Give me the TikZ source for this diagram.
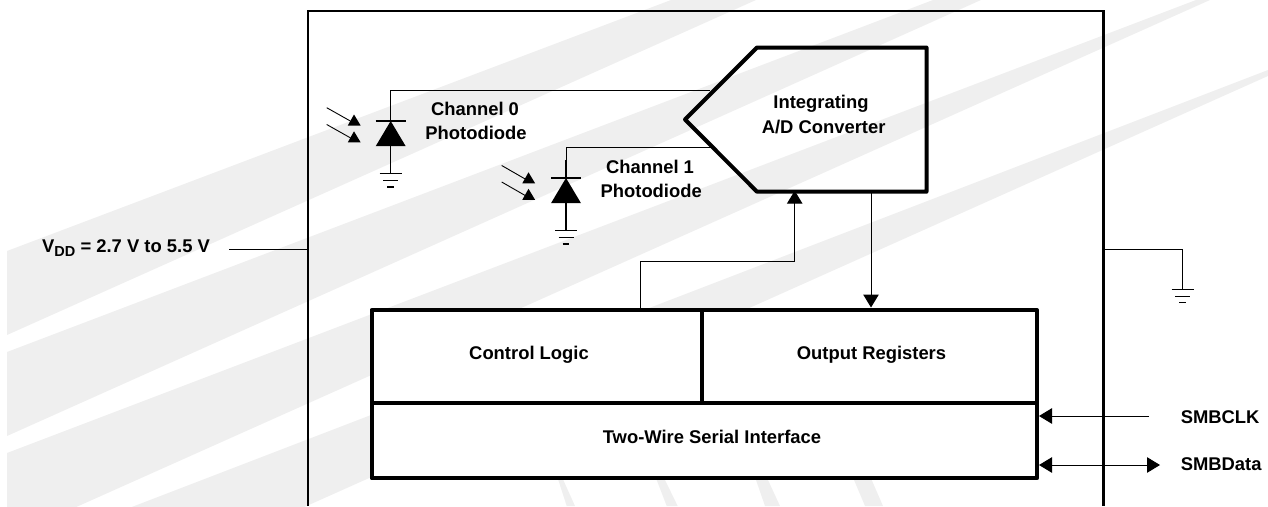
\documentclass[tikz,border=0pt]{standalone}
\usepackage{fontspec}
\setmainfont{Liberation Sans}
\usetikzlibrary{arrows.meta}
\definecolor{bandgray}{HTML}{EFEFEF}
\tikzset{
  x=1pt,y=-1pt,
  band/.style={fill=bandgray,draw=none},
  thinline/.style={line width=1pt,black},
  stem/.style={line width=1.5pt,black},
  frameline/.style={line width=2.4pt,black,line join=miter},
  heavy/.style={line width=4pt,black,line join=round},
  label/.style={font=\bfseries\fontsize{18.4}{22}\selectfont,text=black,inner sep=0pt,align=center},
  arr/.style={-{Triangle[length=13pt,width=15.5pt]}},
  arrs/.style={{Triangle[length=13pt,width=15.5pt]}-{Triangle[length=13pt,width=15.5pt]}},
}
\newcommand{\gnd}[2]{%
  \draw[line width=1.2pt] (#1-11,#2) -- (#1+11,#2);
  \draw[line width=1.2pt] (#1-7.5,#2+6.8) -- (#1+7.5,#2+6.8);
  \draw[line width=1.2pt] (#1-3.3,#2+13.4) -- (#1+3.3,#2+13.4);}
\newcommand{\lightarrow}[3]{% start x, apex x, apex y
  \draw[line width=0.9pt] (#1,#3-6.8) -- (#2-3.5,#3+6.6);
  \fill (#2,#3) -- (#2+6.6,#3+11) -- (#2-6.2,#3+11) -- cycle;}
\newcommand{\diode}[3]{% x, wire top y, bar y
  \fill (#1-15,#3+25.2) -- (#1+15,#3+25.2) -- (#1,#3) -- cycle;
  \draw[stem] (#1-15,#3) -- (#1+15,#3);
  \draw[stem] (#1,#3-18) -- (#1,#3);
  \draw[stem] (#1,#3+25) -- (#1,#3+52.6);
  \gnd{#1}{#3+52.6}}
\begin{document}
\begin{tikzpicture}
\useasboundingbox (0,0) rectangle (1268,506);
\begin{scope}
\clip (7,0) rectangle (1268,506);
\fill[band] (7,251) -- (671,0) -- (756,0) -- (7,335) -- cycle;
\fill[band] (7,352) -- (933,0) -- (981,0) -- (7,436) -- cycle;
\fill[band] (7,453) -- (1196,0) -- (1210,0) -- (7,538) -- cycle;
\fill[band] (7,555) -- (1268,70) -- (1268,76) -- (7,640) -- cycle;
\fill[band] (558.3,480) -- (563.3,480) -- (575,506) -- (566.7,506) -- cycle;
\fill[band] (656.7,480) -- (665,480) -- (677.7,506) -- (666.7,506) -- cycle;
\fill[band] (756,480) -- (768,480) -- (780,506) -- (765,506) -- cycle;
\fill[band] (854,480) -- (871.7,480) -- (883,506) -- (865,506) -- cycle;
\end{scope}

% frame
\coordinate (fbl) at (308,506);
\coordinate (fbr) at (1103.5,506);
\draw[frameline] (fbl) -- (308,11) -- (1103.5,11) -- (fbr);

% blocks
\node[heavy,draw,fill=white,inner sep=0pt,outer sep=0pt,shape=rectangle,anchor=north west,minimum width=665.5pt,minimum height=168.3pt] (blk) at (371.5,310) {};
\coordinate (midL) at (371.5,403.3);
\coordinate (midR) at (1037,403.3);
\coordinate (divT) at (701.7,310);
\coordinate (divB) at (701.7,403.3);
\draw[line width=3.8pt] (midL) -- (midR);
\draw[line width=3.8pt] (divT) -- (divB);
\node[label] (ctl) at (529,355) {Control Logic};
\node[label] (out) at (871.5,355) {Output Registers};
\node[label] (twi) at (712,436.7) {Two-Wire Serial Interface};

% converter
\draw[heavy] (757,47.5) -- (926.5,47.5) -- (926.5,191.7) -- (757,191.7) -- (685,119.5) -- cycle;
\coordinate (adcA) at (710,90.5);
\coordinate (adcB) at (713,147.7);
\node[label] (adc) at (821,104) {Integrating};
\node[label] (adc2) at (823.6,127.3) {A/D Converter};

% channel 0
\coordinate (d0) at (390.7,121);
\draw[thinline] (adcA) -- (390.7,90.5) -- (d0);
\diode{390.7}{90.5}{121}
\lightarrow{326.7}{354}{114.5}
\lightarrow{326.7}{354}{131.3}
\node[label] (c0) at (475,109) {Channel 0};
\node[label] (c0b) at (476,132.7) {Photodiode};

% channel 1
\coordinate (d1) at (566,178);
\draw[thinline] (adcB) -- (566,147.7) -- (d1);
\diode{566}{147.7}{178}
\lightarrow{501.7}{528.5}{172.3}
\lightarrow{501.7}{528.5}{188.8}
\node[label] (c1) at (650,166.7) {Channel 1};
\node[label] (c1b) at (651.2,190.7) {Photodiode};

% control and output connectors
\coordinate (ctlout) at (640.5,308.5);
\coordinate (adcC) at (794.7,190.7);
\coordinate (outI) at (871,191.7);
\coordinate (outO) at (871,307.5);
\draw[thinline,arr] (ctlout) -- (640.5,261) -- (794.7,261) -- (adcC);
\draw[thinline,arr] (outI) -- (outO);

% vdd and ground
\node[label,anchor=west] (vdd) at (42,248) {V\raisebox{-4pt}{\fontsize{14.5}{15}\selectfont DD} = 2.7 V to 5.5 V};
\coordinate (vddr) at (229,249);
\coordinate (vddl) at (307,249);
\draw[thinline] (vddr) -- (vddl);
\coordinate (gs) at (1104,249);
\coordinate (gg) at (1182.6,289.3);
\draw[thinline] (gs) -- (1182.6,249) -- (gg);
\gnd{1182.6}{289.3}

% serial
\coordinate (sclk) at (1149,416);
\coordinate (sclkb) at (1039,416);
\draw[thinline,arr] (sclk) -- (sclkb);
\coordinate (sdb) at (1039,465);
\coordinate (sdr) at (1160,465);
\draw[thinline,arrs] (sdb) -- (sdr);
\node[label,anchor=west] (smbclk) at (1180.6,417) {SMBCLK};
\node[label,anchor=west] (smbd) at (1180.6,464) {SMBData};
\end{tikzpicture}
\end{document}
